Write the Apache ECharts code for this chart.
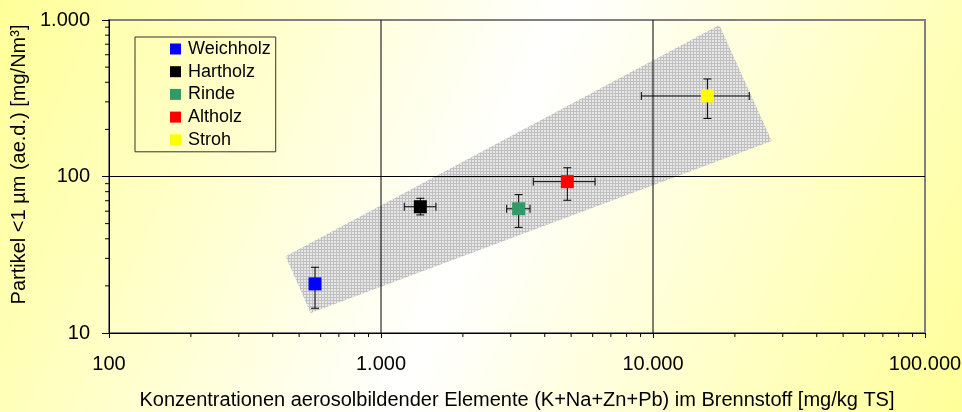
<!DOCTYPE html>
<html><head><meta charset="utf-8">
<script src="https://cdn.jsdelivr.net/npm/echarts@6/dist/echarts.min.js"></script>
<style>html,body{margin:0;padding:0;background:#fff;} #c{width:962px;height:412px;}</style>
</head><body><div id="c"></div>
<script>
const categories = ['Weichholz', 'Hartholz', 'Rinde', 'Altholz', 'Stroh'];
const colors = ['#0000ff', '#000000', '#339966', '#ff0000', '#ffff00'];
const xValues = [572, 1395, 3206, 4842, 15850];
const yValues = [20.6, 64.1, 62.2, 92.7, 327];
const xLow = [572, 1218, 2898, 3630, 9058];
const xHigh = [572, 1592, 3531, 6124, 22590];
const yLow = [14.4, 56.8, 47.3, 70.5, 235];
const yHigh = [26.3, 72.6, 76.6, 113.7, 420];
const bandX = [446, 17530, 27320, 551];
const bandY = [30.9, 929, 168.6, 13.4];
const gridLinesX = [1000, 10000];
const gridLinesY = [100];
const xMinorTicks = [200, 300, 400, 500, 600, 700, 800, 900, 2000, 3000, 4000, 5000, 6000, 7000, 8000, 9000, 20000, 30000, 40000, 50000, 60000, 70000, 80000, 90000];
const yMinorTicks = [20, 30, 40, 50, 60, 70, 80, 90, 200, 300, 400, 500, 600, 700, 800, 900];
const xTitle = 'Konzentrationen aerosolbildender Elemente (K+Na+Zn+Pb) im Brennstoff [mg/kg TS]';
const yTitle = 'Partikel <1 µm (ae.d.) [mg/Nm³]';
const X_MIN = 100, X_MAX = 100000, Y_MIN = 10, Y_MAX = 1000;

const FONT = 'Liberation Sans, Arial, sans-serif';
const fmt = v => String(Math.round(v)).replace(/\B(?=(\d{3})+(?!\d))/g, '.');

// dotted pattern for the band
const pc = document.createElement('canvas');
pc.width = 3; pc.height = 3;
const pctx = pc.getContext('2d');
pctx.fillStyle = '#e6e6e6'; pctx.fillRect(0, 0, 3, 3);
pctx.fillStyle = '#c0c0c0'; pctx.fillRect(0, 0, 3, 1); pctx.fillRect(0, 0, 1, 3);

const chart = echarts.init(document.getElementById('c'), null, {renderer: 'canvas'});

const series = [];
// band
series.push({
  type: 'custom', silent: true, z: 1,
  data: [[bandX[0], bandY[0]]],
  renderItem: (params, api) => {
    const pts = bandX.map((x, i) => api.coord([x, bandY[i]]));
    return {type: 'polygon', shape: {points: pts}, style: {fill: {image: pc, repeat: 'repeat'}}};
  }
});
// major grid lines
series.push({
  type: 'custom', silent: true, z: 2,
  data: gridLinesX.map(v => [v, 0]).concat(gridLinesY.map(v => [0, v])),
  renderItem: (params, api) => {
    const a = api.value(0), b = api.value(1);
    let p1, p2;
    if (b === 0) { p1 = api.coord([a, Y_MIN]); p2 = api.coord([a, Y_MAX]); }
    else { p1 = api.coord([X_MIN, b]); p2 = api.coord([X_MAX, b]); }
    return {type: 'line', shape: {x1: p1[0], y1: p1[1], x2: p2[0], y2: p2[1]}, style: {stroke: '#000', lineWidth: 1}};
  }
});
// minor ticks
series.push({
  type: 'custom', silent: true, z: 3,
  data: xMinorTicks.map(v => [v, 0]).concat(yMinorTicks.map(v => [0, v])),
  renderItem: (params, api) => {
    const a = api.value(0), b = api.value(1);
    let p, shape;
    if (b === 0) { p = api.coord([a, Y_MIN]); shape = {x1: p[0], y1: p[1], x2: p[0], y2: p[1] + 4}; }
    else { p = api.coord([X_MIN, b]); shape = {x1: p[0], y1: p[1], x2: p[0] - 4, y2: p[1]}; }
    return {type: 'line', shape: shape, style: {stroke: '#000', lineWidth: 1}};
  }
});
// error bars
series.push({
  type: 'custom', silent: true, z: 4,
  data: categories.map((c, i) => [xValues[i], yValues[i], xLow[i], xHigh[i], yLow[i], yHigh[i]]),
  renderItem: (params, api) => {
    const x = api.value(0), y = api.value(1);
    const children = [];
    const st = {stroke: '#000', lineWidth: 1};
    const cap = 4;
    const yl = api.coord([x, api.value(4)]), yh = api.coord([x, api.value(5)]);
    children.push({type: 'line', shape: {x1: yl[0], y1: yl[1], x2: yh[0], y2: yh[1]}, style: st});
    children.push({type: 'line', shape: {x1: yl[0] - cap, y1: yl[1], x2: yl[0] + cap, y2: yl[1]}, style: st});
    children.push({type: 'line', shape: {x1: yh[0] - cap, y1: yh[1], x2: yh[0] + cap, y2: yh[1]}, style: st});
    if (api.value(2) !== api.value(3)) {
      const xl = api.coord([api.value(2), y]), xh = api.coord([api.value(3), y]);
      children.push({type: 'line', shape: {x1: xl[0], y1: xl[1], x2: xh[0], y2: xh[1]}, style: st});
      children.push({type: 'line', shape: {x1: xl[0], y1: xl[1] - cap, x2: xl[0], y2: xl[1] + cap}, style: st});
      children.push({type: 'line', shape: {x1: xh[0], y1: xh[1] - cap, x2: xh[0], y2: xh[1] + cap}, style: st});
    }
    return {type: 'group', children: children};
  }
});
categories.forEach((c, i) => {
  series.push({
    type: 'scatter', name: c, z: 10, symbol: 'rect', symbolSize: 13,
    itemStyle: {color: colors[i], opacity: 1},
    data: [[xValues[i], yValues[i]]]
  });
});

chart.setOption({
  animation: false,
  backgroundColor: {
    type: 'linear', x: 0, y: 0, x2: 1, y2: 1,
    colorStops: [{offset: 0, color: '#ffff99'}, {offset: 0.5, color: '#ffffff'}, {offset: 1, color: '#ffff99'}]
  },
  textStyle: {fontFamily: FONT},
  grid: {left: 109, top: 20, right: 37, bottom: 79, show: true, borderColor: '#808080', borderWidth: 2, backgroundColor: 'transparent', containLabel: false, outerBoundsMode: 'none'},
  legend: {
    orient: 'vertical', left: 135, top: 37, data: categories, icon: 'rect',
    itemWidth: 11, itemHeight: 11, itemGap: 4.7, padding: [3, 5, 3, 35],
    borderColor: '#333', borderWidth: 1, selectedMode: false,
    textStyle: {fontSize: 18, color: '#000', fontFamily: FONT, padding: [0, 0, 0, 2]}
  },
  xAxis: {
    type: 'log', logBase: 10, min: X_MIN, max: X_MAX,
    name: xTitle, nameLocation: 'middle', nameGap: 57,
    nameTextStyle: {fontSize: 20, color: '#000', fontFamily: FONT},
    axisLine: {show: true, lineStyle: {color: '#000', width: 1}},
    axisTick: {show: true, inside: false, length: 5, lineStyle: {color: '#000'}},
    axisLabel: {fontSize: 20, color: '#000', margin: 21, formatter: fmt, fontFamily: FONT},
    splitLine: {show: false}, minorTick: {show: false}
  },
  yAxis: {
    type: 'log', logBase: 10, min: Y_MIN, max: Y_MAX,
    name: yTitle, nameLocation: 'middle', nameGap: 78,
    nameTextStyle: {fontSize: 20, color: '#000', fontFamily: FONT, padding: [0, 0, 0, 24]},
    axisLine: {show: true, lineStyle: {color: '#000', width: 1}},
    axisTick: {show: true, inside: false, length: 7, lineStyle: {color: '#000'}},
    axisLabel: {fontSize: 20, color: '#000', margin: 19, formatter: fmt, fontFamily: FONT},
    splitLine: {show: false}, minorTick: {show: false}
  },
  series: series
});
</script>
</body></html>
